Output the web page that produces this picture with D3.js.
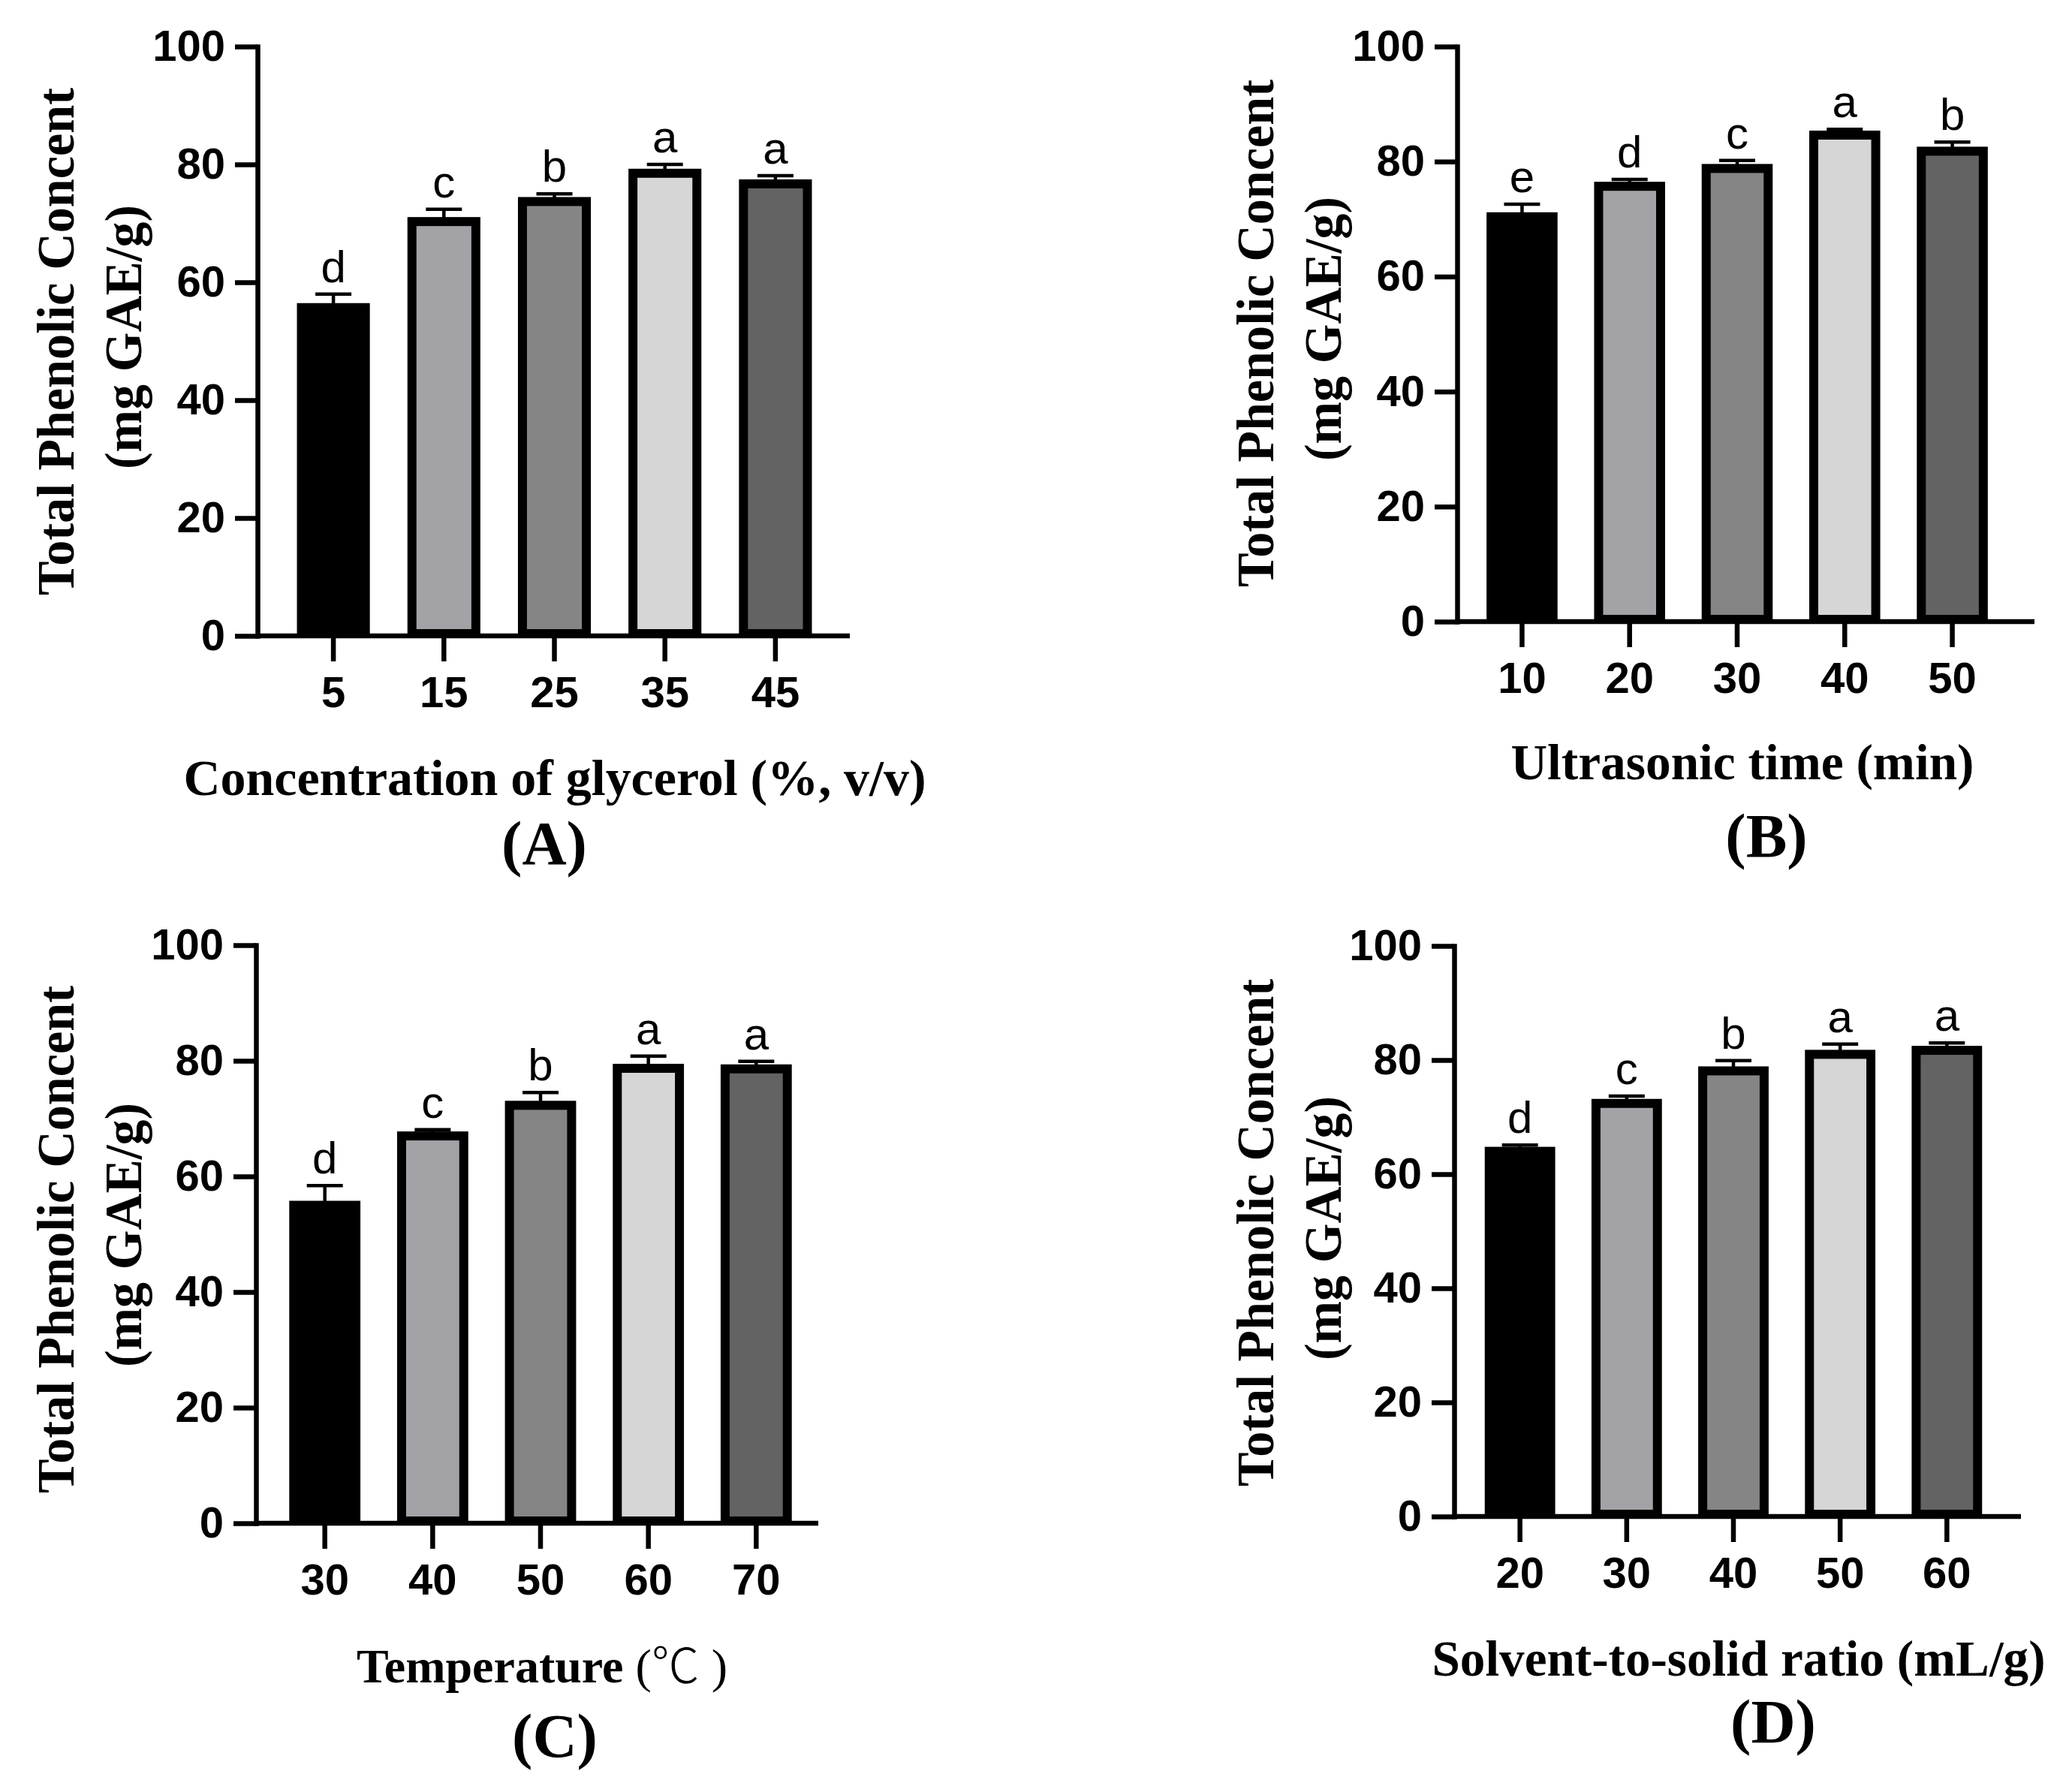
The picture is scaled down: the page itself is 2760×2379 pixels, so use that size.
<!DOCTYPE html>
<html>
<head>
<meta charset="utf-8">
<script src="https://cdn.jsdelivr.net/npm/d3@7/dist/d3.min.js"></script>
<style>
  html, body { margin: 0; padding: 0; background: #ffffff; }
  svg { display: block; }
</style>
</head>
<body>
<script>
// ---------------- DATA ----------------
const yTickValues = [0, 20, 40, 60, 80, 100];
const yTitleLine1 = "Total Phenolic Concent";
const yTitleLine2 = "(mg GAE/g)";

const catsA = ["5", "15", "25", "35", "45"];
const valsA = [55.7, 70.3, 73.7, 78.5, 76.7];
const errA  = [2.3, 2.1, 1.3, 1.5, 1.4];
const letA  = ["d", "c", "b", "a", "a"];
const xTitleA = ["Concentration of glycerol (%, v/v)"];
const tagA = "(A)";

const catsB = ["10", "20", "30", "40", "50"];
const valsB = [70.4, 75.7, 78.8, 84.6, 81.8];
const errB  = [2.2, 1.2, 1.4, 1.0, 1.6];
const letB  = ["e", "d", "c", "a", "b"];
const xTitleB = ["Ultrasonic time (min)"];
const tagB = "(B)";

const catsC = ["30", "40", "50", "60", "70"];
const valsC = [55.0, 67.0, 72.3, 78.7, 78.6];
const errC  = [3.4, 1.1, 2.2, 2.1, 1.3];
const letC  = ["d", "c", "b", "a", "a"];
const xTitleC = ["Temperature ", "(", "\u2103", " )"];
const tagC = "(C)";

const catsD = ["20", "30", "40", "50", "60"];
const valsD = [64.0, 72.4, 78.1, 81.0, 81.7];
const errD  = [1.1, 1.3, 1.8, 1.8, 1.3];
const letD  = ["d", "c", "b", "a", "a"];
const xTitleD = ["Solvent-to-solid ratio (mL/g)"];
const tagD = "(D)";

const barFills = ["#000000", "#a3a2a7", "#858585", "#d6d6d6", "#636363"];

// ---------------- LAYOUT ----------------
const W = 2760, H = 2379;
const panels = [
  { cats: catsA, vals: valsA, errs: errA, lets: letA, xTitle: xTitleA, tag: tagA,
    axX: 343, axEnd: 1132, b0: 344, b1: 1133, yTop: 62, yBot: 847,
    xTitleX: 739, xTitleY: 1059, xTitleLen: 989, xTitleSize: 67, tagX: 725, tagY: 1151,
    yT1X: 98, yT2X: 188, yT1C: 455, yT2C: 449 },
  { cats: catsB, vals: valsB, errs: errB, lets: letB, xTitle: xTitleB, tag: tagB,
    axX: 1941, axEnd: 2710, b0: 1930, b1: 2698, yTop: 62, yBot: 828,
    xTitleX: 2321, xTitleY: 1038, xTitleLen: 617, xTitleSize: 67, tagX: 2353, tagY: 1141,
    yT1X: 1696, yT2X: 1786, yT1C: 444, yT2C: 438 },
  { cats: catsC, vals: valsC, errs: errC, lets: letC, xTitle: xTitleC, tag: tagC,
    axX: 341, axEnd: 1090, b0: 335, b1: 1105, yTop: 1259, yBot: 2029,
    xTitleX: 722, xTitleY: 2241, xTitleLen: null, xTitleSize: 64, tagX: 739, tagY: 2340,
    yT1X: 98, yT2X: 188, yT1C: 1651, yT2C: 1645 },
  { cats: catsD, vals: valsD, errs: errD, lets: letD, xTitle: xTitleD, tag: tagD,
    axX: 1937, axEnd: 2692, b0: 1928, b1: 2690, yTop: 1260, yBot: 2020,
    xTitleX: 2316, xTitleY: 2232, xTitleLen: 817, xTitleSize: 67, tagX: 2362, tagY: 2321,
    yT1X: 1696, yT2X: 1786, yT1C: 1642, yT2C: 1636 }
];

const SANS = "'Liberation Sans', Arial, sans-serif";
const SERIF = "'Liberation Serif', 'Times New Roman', serif";
const AXIS_W = 6.5, BAR_STROKE = 12;

const svg = d3.select("body").append("svg")
  .attr("width", W).attr("height", H)
  .attr("viewBox", `0 0 ${W} ${H}`);
svg.append("rect").attr("width", W).attr("height", H).attr("fill", "#fff");

panels.forEach(p => {
  const g = svg.append("g");
  const y = d3.scaleLinear().domain([0, 100]).range([p.yBot, p.yTop]);
  const x = d3.scaleBand().domain(p.cats).range([p.b0, p.b1])
    .paddingInner(0.34).paddingOuter(0.35);
  const bw = x.bandwidth();
  const rows = p.cats.map((c, i) => ({ c, v: p.vals[i], e: p.errs[i], l: p.lets[i], f: barFills[i] }));

  // error bars (upper only)
  const eb = g.append("g").attr("stroke", "#000").attr("stroke-width", 4.5).attr("fill", "none");
  eb.selectAll("line.v").data(rows).join("line")
    .attr("x1", d => x(d.c) + bw / 2).attr("x2", d => x(d.c) + bw / 2)
    .attr("y1", d => y(d.v)).attr("y2", d => y(d.v + d.e));
  eb.selectAll("line.cap").data(rows).join("line")
    .attr("x1", d => x(d.c) + bw / 2 - 24).attr("x2", d => x(d.c) + bw / 2 + 24)
    .attr("y1", d => y(d.v + d.e)).attr("y2", d => y(d.v + d.e));

  // bars
  g.append("g").selectAll("rect").data(rows).join("rect")
    .attr("x", d => x(d.c) + BAR_STROKE / 2)
    .attr("width", bw - BAR_STROKE)
    .attr("y", d => y(d.v))
    .attr("height", d => y(0) - y(d.v) - 3)
    .attr("fill", d => d.f)
    .attr("stroke", "#000")
    .attr("stroke-width", BAR_STROKE);

  // significance letters
  g.append("g").selectAll("text").data(rows).join("text")
    .attr("x", d => x(d.c) + bw / 2)
    .attr("y", d => y(d.v + d.e) - 16)
    .attr("text-anchor", "middle")
    .attr("font-family", SANS).attr("font-size", 60)
    .attr("fill", "#000")
    .text(d => d.l);

  // y axis
  const ya = g.append("g").attr("transform", `translate(${p.axX},0)`)
    .call(d3.axisLeft(y).tickValues(yTickValues).tickSize(30).tickSizeOuter(0).tickPadding(13));
  ya.select(".domain").attr("stroke-width", AXIS_W).attr("stroke-linecap", "square");
  ya.selectAll(".tick line").attr("stroke-width", AXIS_W);
  ya.selectAll(".tick text").attr("font-family", SANS).attr("font-weight", "bold")
    .attr("font-size", 58).attr("fill", "#000");

  // x axis: baseline + ticks at band centres
  g.append("line")
    .attr("x1", p.axX).attr("x2", p.axEnd)
    .attr("y1", p.yBot).attr("y2", p.yBot)
    .attr("stroke", "#000").attr("stroke-width", AXIS_W);
  const xa = g.append("g").attr("transform", `translate(0,${p.yBot})`)
    .call(d3.axisBottom(x).tickSize(34).tickSizeOuter(0).tickPadding(20));
  xa.select(".domain").remove();
  xa.selectAll(".tick line").attr("stroke-width", AXIS_W);
  xa.selectAll(".tick text").attr("font-family", SANS).attr("font-weight", "bold")
    .attr("font-size", 58).attr("fill", "#000");

  // y title (two lines)
  const yt = g.append("g").attr("font-family", SERIF).attr("font-weight", "bold")
    .attr("font-size", 70).attr("fill", "#000").attr("text-anchor", "middle");
  yt.append("text").attr("transform", `translate(${p.yT1X},${p.yT1C}) rotate(-90)`)
    .attr("textLength", 676).attr("lengthAdjust", "spacingAndGlyphs").text(yTitleLine1);
  yt.append("text").attr("transform", `translate(${p.yT2X},${p.yT2C}) rotate(-90)`)
    .attr("textLength", 352).attr("lengthAdjust", "spacingAndGlyphs").text(yTitleLine2);

  // x title
  const xt = g.append("text")
    .attr("x", p.xTitleX).attr("y", p.xTitleY)
    .attr("text-anchor", "middle")
    .attr("font-family", SERIF).attr("font-weight", "bold").attr("font-size", p.xTitleSize)
    .attr("fill", "#000");
  if (p.xTitleLen) xt.attr("textLength", p.xTitleLen).attr("lengthAdjust", "spacingAndGlyphs");
  if (p.xTitle.length === 1) {
    xt.text(p.xTitle[0]);
  } else {
    xt.append("tspan").text(p.xTitle[0]);
    xt.append("tspan").attr("font-weight", "normal").text(p.xTitle[1]);
    xt.append("tspan").attr("font-weight", "300")
      .attr("font-family", "'Noto Sans CJK SC', 'Liberation Serif', serif").text(p.xTitle[2]);
    xt.append("tspan").attr("font-weight", "normal").text(p.xTitle[3]);
  }

  // panel tag
  g.append("text")
    .attr("x", p.tagX).attr("y", p.tagY)
    .attr("text-anchor", "middle")
    .attr("font-family", SERIF).attr("font-weight", "bold").attr("font-size", 82)
    .attr("fill", "#000")
    .text(p.tag);
});
</script>
</body>
</html>
